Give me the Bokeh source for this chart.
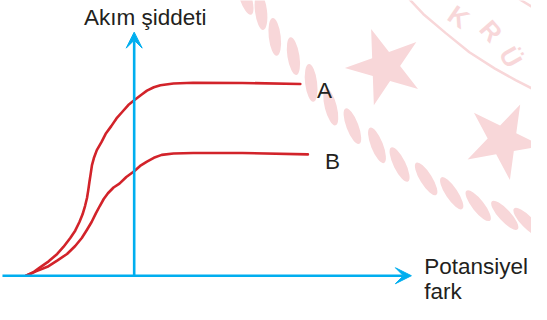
import math
from bokeh.plotting import figure
from bokeh.models import Range1d, Arrow, VeeHead
from bokeh.core.properties import value
from bokeh.embed import file_html
from bokeh.resources import INLINE

# ---- data (x: potential difference, y: current), arbitrary units ----
curve_a_x = [-11.0, -10.2, -9.5, -8.7, -7.83, -7.2, -6.5, -6.0, -5.57, -5.25, -5.0, -4.8,
             -4.67, -4.55, -4.43, -4.3, -4.1, -3.8, -3.33, -2.9, -2.33, -1.8, -1.2, -0.6,
             0.0, 0.7, 1.3, 2.0, 2.67, 4.0, 6.0, 11.0, 16.9]
curve_a_y = [0.0, 0.4, 0.93, 1.5, 2.27, 3.0, 3.93, 4.7, 5.6, 6.4, 7.27, 8.1,
             8.93, 9.8, 10.6, 11.5, 12.27, 13.1, 13.93, 14.8, 15.6, 16.4, 17.1, 17.8,
             18.3, 18.85, 19.3, 19.65, 19.87, 20.05, 20.13, 20.1, 20.0]
curve_b_x = [-11.0, -10.0, -8.83, -7.8, -6.83, -6.0, -5.33, -4.8, -4.33, -3.9, -3.5, -3.1,
             -2.67, -2.1, -1.5, -0.8, 0.0, 0.6, 1.3, 2.0, 2.8, 4.0, 6.0, 11.0, 17.67]
curve_b_y = [0.0, 0.45, 0.93, 1.6, 2.27, 3.1, 3.93, 4.8, 5.6, 6.5, 7.27, 8.0,
             8.6, 9.2, 9.6, 10.3, 10.9, 11.45, 11.9, 12.3, 12.6, 12.75, 12.8, 12.8, 12.65]
series_names = ["A", "B"]

# axis extents
x_axis_span = [-13.4, 28.2]
y_axis_span = [0.0, 25.4]

# text labels
axis_titles = ["Akım şiddeti", "Potansiyel", "fark"]
axis_title_x = [-5.1, 29.5, 29.5]
axis_title_y = [26.93, 0.93, -1.6]
series_label_x = [18.6, 19.4]
series_label_y = [19.33, 11.87]

# ---- faint watermark decoration (background) ----
rope_x = [11.3, 12.9, 14.3, 16.2, 18.0, 20.0, 22.2, 24.7, 27.0, 29.7, 32.3, 35.0, 37.7, 40.0]
rope_y = [29.1, 27.6, 24.9, 22.9, 20.1, 17.6, 15.6, 13.6, 11.6, 10.1, 8.6, 7.3, 6.3, 5.6]
star_x = [25.5, 37.5]
star_y = [21.8, 14.1]
star_angle = [0.35, -0.45]
ring1_x = [27.3, 29.4, 31.7, 34.1, 36.7, 38.8, 40.7]
ring1_y = [29.6, 27.3, 25.3, 23.3, 21.6, 20.4, 19.4]
ring2_x = [38.0, 39.4, 40.7]
ring2_y = [29.6, 28.7, 27.9]
wm_letters = ["K", "R", "Ü"]
wm_letter_x = [33.0, 36.3, 38.3]
wm_letter_y = [27.0, 25.5, 22.8]
wm_letter_angle = [-0.6, -0.85, -1.05]

BLUE = "#00AEEF"
RED = "#D2232A"
TEXT = "#231F20"
PINK = "#F8D7D9"
FONT = value("Liberation Sans")

p = figure(width=531, height=304,
           x_range=Range1d(-13.6, 40.42), y_range=Range1d(-3.0, 28.7),
           toolbar_location=None, output_backend="svg",
           x_axis_type=None, y_axis_type=None,
           min_border=0, outline_line_color=None,
           background_fill_color="white", border_fill_color="white")
p.grid.visible = False

# watermark rope segments: tilted relative to the arc tangent
rope_angle = []
n = len(rope_x)
for i in range(n):
    i0 = max(i - 1, 0)
    i1 = min(i + 1, n - 1)
    t = math.atan2(rope_y[i1] - rope_y[i0], rope_x[i1] - rope_x[i0])
    rope_angle.append(t - 0.5)
p.ellipse(x=rope_x, y=rope_y, width=38, height=12, width_units="screen",
          height_units="screen", angle=rope_angle, fill_color=PINK,
          line_color=None)
p.scatter(x=star_x, y=star_y, marker="star", size=80, angle=star_angle,
          fill_color=PINK, line_color=None)
p.line(ring1_x, ring1_y, line_color=PINK, line_width=2.5)
p.line(ring2_x, ring2_y, line_color=PINK, line_width=2.5)
p.text(x=wm_letter_x, y=wm_letter_y, text=wm_letters, angle=wm_letter_angle,
       text_font=FONT, text_font_style="bold", text_font_size="26px",
       text_color=PINK, text_align="center", text_baseline="middle")

# axes with arrowheads
p.add_layout(Arrow(end=VeeHead(size=16, fill_color=BLUE, line_color=BLUE, line_width=1),
                   x_start=x_axis_span[0], y_start=0, x_end=x_axis_span[1], y_end=0,
                   line_color=BLUE, line_width=2.6))
p.add_layout(Arrow(end=VeeHead(size=16, fill_color=BLUE, line_color=BLUE, line_width=1),
                   x_start=0, y_start=y_axis_span[0], x_end=0, y_end=y_axis_span[1],
                   line_color=BLUE, line_width=2.6))

# curves
p.line(curve_a_x, curve_a_y, line_color=RED, line_width=2.6,
       line_join="round", line_cap="round")
p.line(curve_b_x, curve_b_y, line_color=RED, line_width=2.6,
       line_join="round", line_cap="round")

# texts
p.text(x=axis_title_x, y=axis_title_y, text=axis_titles, text_font=FONT,
       text_font_size="22.5px", text_color=TEXT, text_align="left",
       text_baseline="alphabetic")
p.text(x=series_label_x, y=series_label_y, text=series_names, text_font=FONT,
       text_font_size="22.5px", text_color=TEXT, text_align="left",
       text_baseline="alphabetic")

open("out.html", "w").write(file_html(p, INLINE))
